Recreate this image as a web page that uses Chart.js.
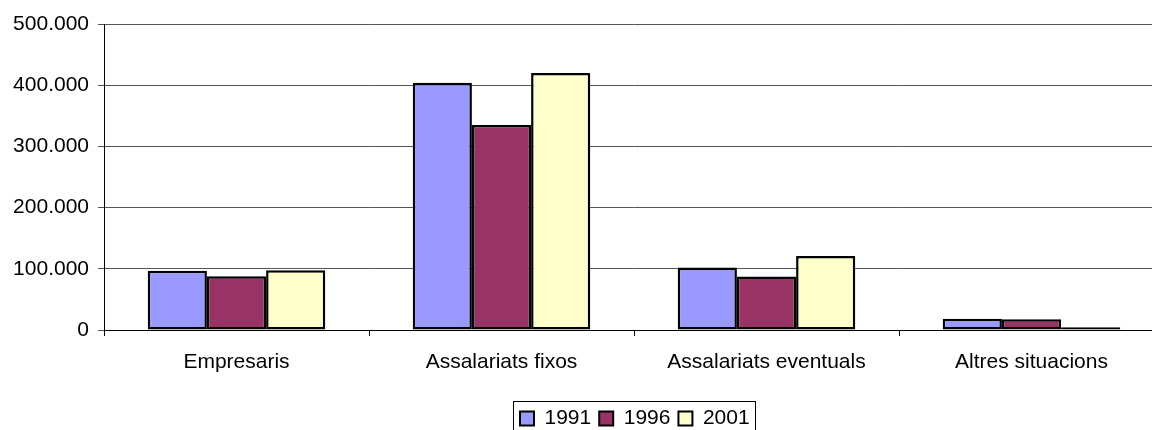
<!DOCTYPE html>
<html>
<head>
<meta charset="utf-8">
<script src="https://cdn.jsdelivr.net/npm/chart.js@4/dist/chart.umd.min.js"></script>
<style>
  html, body { margin: 0; padding: 0; background: #fff; overflow: hidden; }
  #wrap { width: 1152px; height: 430px; overflow: hidden; }
</style>
</head>
<body>
<div id="wrap"><canvas id="chart" width="1165" height="430"></canvas></div>
<script>
const categories = ['Empresaris', 'Assalariats fixos', 'Assalariats eventuals', 'Altres situacions'];
const years = ['1991', '1996', '2001'];
const values1991 = [97000, 404000, 102000, 18500];
const values1996 = [88000, 335000, 87500, 17500];
const values2001 = [97500, 420000, 121000, 4500];
const colors = ['#9999FF', '#993366', '#FFFFCC'];

const FONT = 'Liberation Sans, Arial, sans-serif';

// recol·loca la llegenda i dibuixa el recuadre
const legendBox = {
    id: 'legendBox',
    afterUpdate(chart) {
        const lg = chart.legend;
        if (!lg || !lg.legendHitBoxes.length) return;
        const dx = 520 - lg.legendHitBoxes[0].left;
        const dy = 408 - lg.legendHitBoxes[0].top;
        lg.left += dx; lg.right += dx;
        lg.top += dy; lg.bottom += dy;
        lg.adjustHitBoxes();
    },
    afterDraw(chart) {
        const c = chart.ctx;
        c.save();
        c.strokeStyle = '#000';
        c.lineWidth = 1;
        c.strokeRect(513.5, 401.5, 242, 60);
        c.restore();
    }
};

function fmt(v) {
    return v.toString().replace(/\B(?=(\d{3})+(?!\d))/g, '.');
}

const ctx = document.getElementById('chart').getContext('2d');
new Chart(ctx, {
    type: 'bar',
    data: {
        labels: categories,
        datasets: [values1991, values1996, values2001].map((d, i) => ({
            label: years[i],
            data: d,
            backgroundColor: colors[i],
            borderColor: '#000',
            borderWidth: 2.5,
            borderSkipped: false,
            categoryPercentage: 0.67,
            barPercentage: 1
        }))
    },
    options: {
        responsive: false,
        animation: false,
        layout: { padding: { top: 24, right: 1, left: 0, bottom: 0 } },
        plugins: {
            tooltip: { enabled: false },
            legend: {
                position: 'bottom',
                labels: {
                    font: { family: FONT, size: 21 },
                    color: '#000',
                    boxWidth: 14,
                    boxHeight: 14,
                    padding: 8,
                    useBorderRadius: false,
                    generateLabels(chart) {
                        return chart.data.datasets.map((ds, i) => ({
                            text: ds.label,
                            fillStyle: ds.backgroundColor,
                            strokeStyle: '#000',
                            lineWidth: 2,
                            datasetIndex: i
                        }));
                    }
                }
            }
        },
        scales: {
            x: {
                afterFit(scale) { scale.height = 100 - scale.chart.legend.height; },
                grid: { drawOnChartArea: false, offset: true, tickLength: 6, color: '#000' },
                border: { color: '#000', width: 1 },
                ticks: { font: { family: FONT, size: 21 }, color: '#000', padding: 14 }
            },
            y: {
                min: 0,
                max: 500000,
                afterFit(scale) { scale.width = 104; },
                ticks: {
                    stepSize: 100000,
                    font: { family: FONT, size: 21 },
                    color: '#000',
                    padding: 9,
                    callback: v => fmt(v)
                },
                grid: { color: '#555', tickLength: 6 },
                border: { color: '#000', width: 1 }
            }
        }
    },
    plugins: [legendBox]
});
</script>
</body>
</html>
